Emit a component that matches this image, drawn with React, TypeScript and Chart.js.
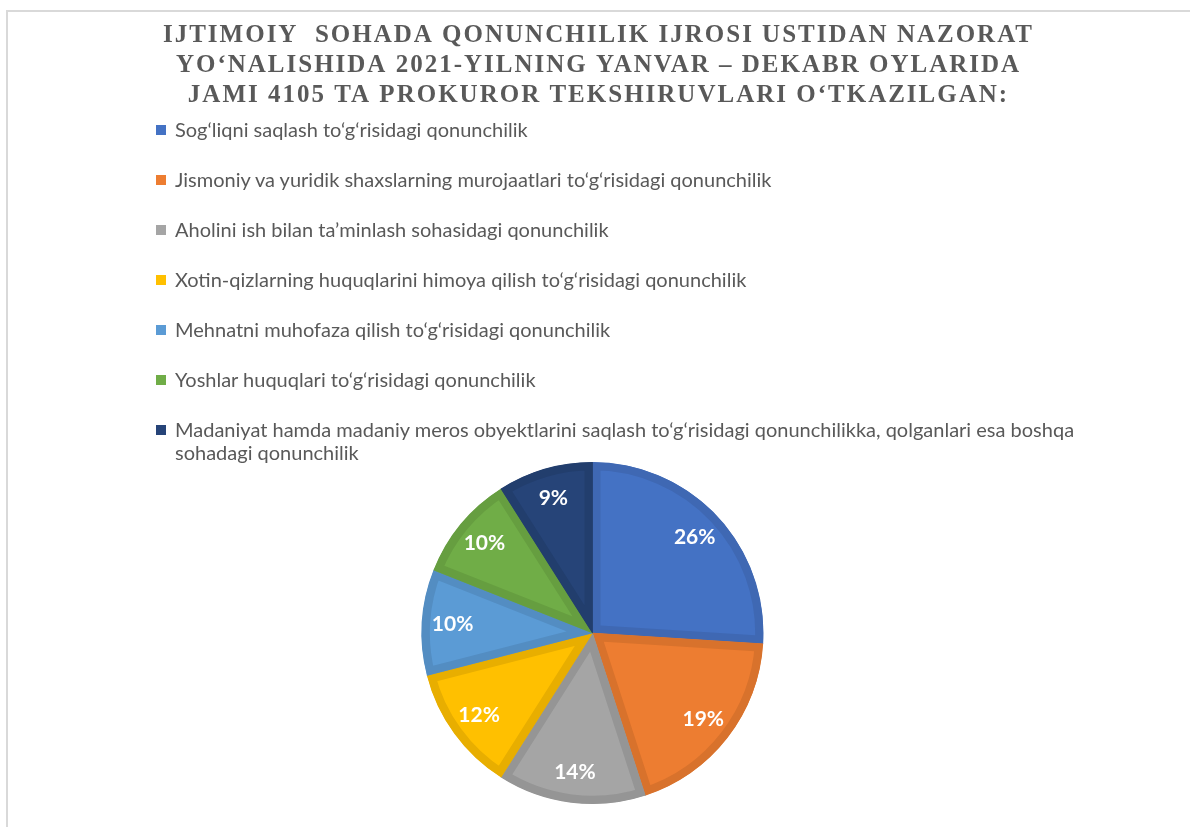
import React, { useEffect, useRef } from "react";
import { Chart, registerables } from "chart.js";

Chart.register(...registerables);

const titleLines = [
  "IJTIMOIY  SOHADA QONUNCHILIK IJROSI USTIDAN NAZORAT",
  "YO‘NALISHIDA 2021-YILNING YANVAR – DEKABR OYLARIDA",
  "JAMI 4105 TA PROKUROR TEKSHIRUVLARI O‘TKAZILGAN:",
];

const categories = [
  "Sog‘liqni saqlash to‘g‘risidagi qonunchilik",
  "Jismoniy va yuridik shaxslarning murojaatlari to‘g‘risidagi qonunchilik",
  "Aholini ish bilan ta’minlash sohasidagi qonunchilik",
  "Xotin-qizlarning huquqlarini himoya qilish to‘g‘risidagi qonunchilik",
  "Mehnatni muhofaza qilish to‘g‘risidagi qonunchilik",
  "Yoshlar huquqlari to‘g‘risidagi qonunchilik",
  "Madaniyat hamda madaniy meros obyektlarini saqlash to‘g‘risidagi qonunchilikka, qolganlari esa boshqa sohadagi qonunchilik",
];

const shares = [26, 19, 14, 12, 10, 10, 9];

const fillColors = ["#4472C4", "#ED7D31", "#A5A5A5", "#FFC000", "#5B9BD5", "#70AD47", "#264478"];
const edgeColors = ["#3F68B3", "#D8722C", "#959595", "#E8AE00", "#538DC2", "#669E40", "#223E6D"];

const titleSpacing = {
  id: "titleSpacing",
  beforeDraw(chart: any) {
    chart.ctx.save();
    chart.ctx.translate(6, 0);
    chart.ctx.letterSpacing = "2px";
  },
  beforeDatasetsDraw(chart: any) {
    chart.ctx.restore();
    chart.ctx.letterSpacing = "0px";
  },
};

const pctLabels = {
  id: "pctLabels",
  afterDatasetsDraw(chart: any) {
    const ctx = chart.ctx;
    const meta = chart.getDatasetMeta(0);
    const data = chart.data.datasets[0].data as number[];
    const total = data.reduce((a, b) => a + b, 0);
    ctx.save();
    ctx.letterSpacing = "0px";
    ctx.fillStyle = "#FFFFFF";
    ctx.font = "bold 21px Lato";
    ctx.textAlign = "center";
    ctx.textBaseline = "middle";
    meta.data.forEach((arc: any, i: number) => {
      const p = arc.getProps(["x", "y", "startAngle", "endAngle", "outerRadius"], true);
      const mid = (p.startAngle + p.endAngle) / 2;
      const r = p.outerRadius * 0.82;
      const txt = Math.round((data[i] / total) * 100) + "%";
      ctx.fillText(txt, p.x + Math.cos(mid) * r, p.y + Math.sin(mid) * r);
    });
    ctx.restore();
  },
};

export default function App() {
  const ref = useRef<HTMLCanvasElement | null>(null);
  useEffect(() => {
    if (!ref.current) return;
    const chart = new Chart(ref.current, {
      type: "pie",
      data: {
        labels: categories,
        datasets: [
          {
            data: shares,
            backgroundColor: fillColors,
            borderColor: edgeColors,
            borderWidth: 8,
            borderAlign: "inner",
            offset: 0,
            hoverOffset: 0,
          } as any,
        ],
      },
      options: {
        responsive: false,
        animation: false,
        devicePixelRatio: 1,
        events: [],
        layout: { padding: { left: 0, right: 5, top: 0, bottom: 23 } },
        plugins: {
          legend: { display: false },
          tooltip: { enabled: false },
          title: {
            display: true,
            text: titleLines,
            color: "#595959",
            font: { family: "'Liberation Serif', serif", size: 25, weight: "bold", lineHeight: 1.2 },
            padding: { top: 21, bottom: 351 },
          },
        },
      },
      plugins: [titleSpacing, pctLabels],
    });
    return () => chart.destroy();
  }, []);

  return (
    <div style={{ position: "absolute", left: 0, top: 0, width: 1190, height: 827, overflow: "hidden", background: "#fff" }}>
      <div
        style={{
          position: "absolute",
          left: 6,
          top: 10,
          width: 1300,
          height: 900,
          borderLeft: "2px solid #D9D9D9",
          borderTop: "2px solid #D9D9D9",
        }}
      />
      <canvas ref={ref} width={1190} height={827} style={{ position: "absolute", left: 0, top: 0 }} />
      <div
        style={{
          position: "absolute",
          left: 156,
          top: 118,
          width: 962,
          fontFamily: "Lato, sans-serif",
          fontSize: 20,
          color: "#595959",
          lineHeight: "23px",
        }}
      >
        {categories.map((c, i) => (
          <div key={i} style={{ position: "relative", paddingLeft: 19, marginBottom: 27 }}>
            <span
              style={{
                position: "absolute",
                left: 0,
                top: 7,
                width: 10,
                height: 10,
                background: fillColors[i],
              }}
            />
            {c}
          </div>
        ))}
      </div>
    </div>
  );
}
